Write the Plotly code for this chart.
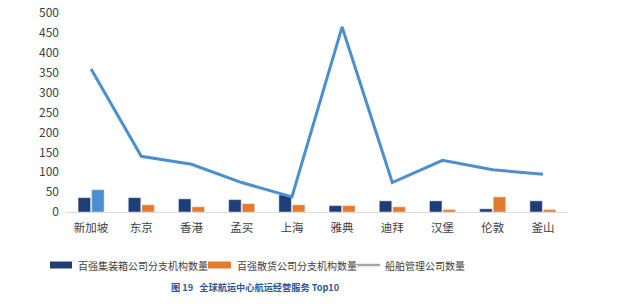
import plotly.graph_objects as go

cities = ["新加坡", "东京", "香港", "孟买", "上海", "雅典", "迪拜", "汉堡", "伦敦", "釜山"]
container_branches = [36, 36, 33, 31, 43, 16, 28, 28, 8, 28]
bulk_branches = [56, 18, 13, 21, 18, 16, 13, 6, 38, 6]
ship_mgmt = [359, 140, 120, 74, 38, 465, 74, 130, 106, 95]
y_ticks = [0, 50, 100, 150, 200, 250, 300, 350, 400, 450, 500]
series_names = ["百强集装箱公司分支机构数量", "百强散货公司分支机构数量", "船舶管理公司数量"]

NAVY = "#1F3D76"
ORANGE = "#E47A2E"
LIGHTBLUE = "#4A8FD4"
LINE = "#4A8FD0"
GRAY = "#A6A6A6"

bulk_colors = [LIGHTBLUE] + [ORANGE] * (len(cities) - 1)

fig = go.Figure()
fig.add_trace(go.Bar(x=cities, y=container_branches, marker_color=NAVY,
                     name=series_names[0]))
fig.add_trace(go.Bar(x=cities, y=bulk_branches, marker_color=bulk_colors,
                     name=series_names[1]))
fig.add_trace(go.Scatter(x=cities, y=ship_mgmt, mode="lines",
                         line=dict(color=LINE, width=3),
                         name=series_names[2]))

font_family = "Noto Sans CJK SC, Noto Sans, sans-serif"

W, H = 621, 304
L, T = 66, 13
R, B = 621 - 568, 304 - 212
pw, ph = W - L - R, H - T - B


def px(x):
    return (x - L) / pw


def py(y):
    return (H - B - y) / ph


fig.update_layout(
    width=W, height=H,
    margin=dict(l=L, r=R, t=T, b=B, autoexpand=False),
    paper_bgcolor="white", plot_bgcolor="white",
    barmode="group", bargap=0.46, bargroupgap=0.08,
    font=dict(family=font_family, color="#404040", size=12),
    xaxis=dict(showgrid=False, showline=True, linecolor="#D9D9D9", linewidth=1,
               ticks="", ticklabelstandoff=5,
               tickfont=dict(size=11.5, color="#404040")),
    yaxis=dict(range=[0, 500], tickvals=y_ticks, showgrid=False, zeroline=False,
               showline=False, ticks="", ticklabelstandoff=6,
               tickfont=dict(size=12, color="#404040")),
    showlegend=False,
)

# custom legend
legend_items = [
    (series_names[0], NAVY, "rect", 50, 72, 76),
    (series_names[1], ORANGE, "rect", 208, 231, 235),
    (series_names[2], GRAY, "line", 357, 380, 383),
]
ly = 265
for name, color, kind, x0, x1, tx in legend_items:
    if kind == "rect":
        fig.add_shape(type="rect", xref="paper", yref="paper",
                      x0=px(x0), x1=px(x1), y0=py(ly + 3.5), y1=py(ly - 3.5),
                      fillcolor=color, line=dict(width=0))
    else:
        fig.add_shape(type="line", xref="paper", yref="paper",
                      x0=px(x0), x1=px(x1), y0=py(ly), y1=py(ly),
                      line=dict(color=color, width=2.5))
    fig.add_annotation(text=name, xref="paper", yref="paper", x=px(tx), y=py(ly),
                       xanchor="left", yanchor="middle", showarrow=False,
                       font=dict(size=10, color="#404040"))

fig.add_annotation(text="<b>图 19   全球航运中心航运经营服务 Top10</b>",
                   xref="paper", yref="paper", x=px(255), y=py(287),
                   xanchor="center", yanchor="middle", showarrow=False,
                   font=dict(size=9.2, color="#2B5797", family="Noto Sans CJK SC, serif"))

fig.write_html("out.html", config={"displayModeBar": False},
               post_script="document.body.style.margin='0px';")
